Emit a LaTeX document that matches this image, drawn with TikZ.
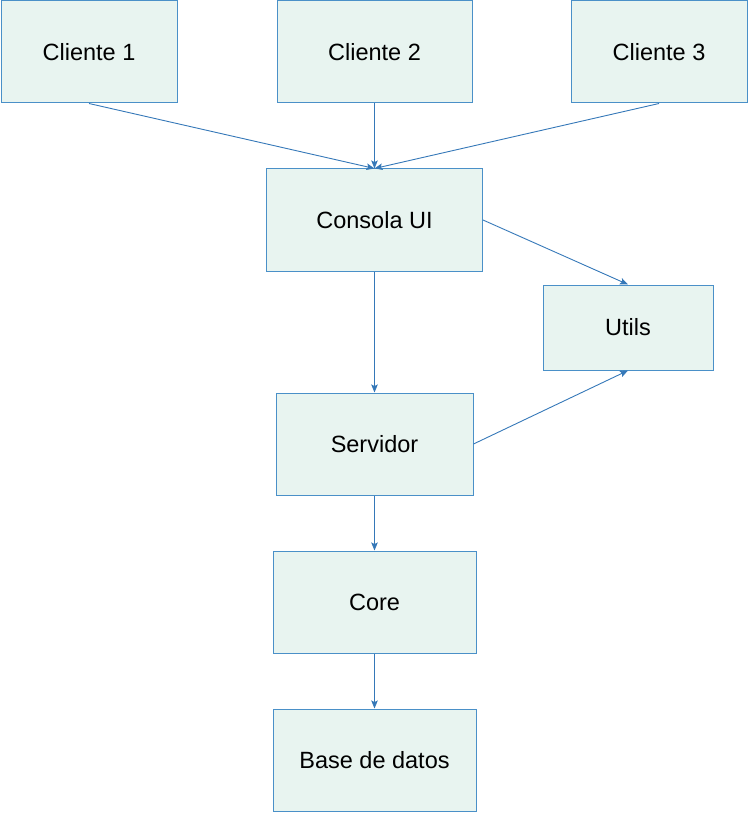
\documentclass[tikz,border=0pt]{standalone}
\usepackage{fontspec}
\setmainfont{Liberation Sans}
\usetikzlibrary{arrows.meta}
\usetikzlibrary{positioning}

\definecolor{boxfill}{HTML}{E8F4F0}
\definecolor{boxline}{HTML}{4A90C8}
\definecolor{arrowline}{HTML}{3578B8}

\tikzset{
    modulo/.style={draw=boxline, fill=boxfill, line width=1pt, minimum height=102pt,
        inner sep=0pt, font=\fontsize{23.5}{28}\selectfont},
    flecha/.style={draw=arrowline, line width=0.9pt,
        -{Stealth[length=8pt,width=6.5pt,inset=1.5pt]}}
}

\begin{document}
\begin{tikzpicture}[x=1pt,y=-1pt]

    \useasboundingbox (0,0) rectangle (749,813);

    \node[modulo, minimum width=176pt] (C1) at (89,52) {Cliente 1};
    \node[modulo, minimum width=195pt] (C2) at (374.5,52) {Cliente 2};
    \node[modulo, minimum width=176pt] (C3) at (659,52) {Cliente 3};
    \node[modulo, minimum width=216pt] (UI) at (374.5,220) {Consola UI};
    \node[modulo, minimum width=170pt, minimum height=85pt] (Utils) at (628,327.5) {Utils};
    \node[modulo, minimum width=197pt] (Serv) at (374.5,444) {Servidor};
    \node[modulo, minimum width=203pt] (Core) at (374.5,602) {Core};
    \node[modulo, minimum width=203pt] (BD) at (374.5,760) {Base de datos};

    \draw[flecha] (C1.south) -- (UI.north);
    \draw[flecha] (C2.south) -- (UI.north);
    \draw[flecha] (C3.south) -- (UI.north);
    \draw[flecha] (UI.east) -- (Utils.north);
    \draw[flecha] (UI.south) -- (Serv.north);
    \draw[flecha] (Serv.east) -- (Utils.south);
    \draw[flecha] (Serv.south) -- (Core.north);
    \draw[flecha] (Core.south) -- (BD.north);

\end{tikzpicture}
\end{document}
